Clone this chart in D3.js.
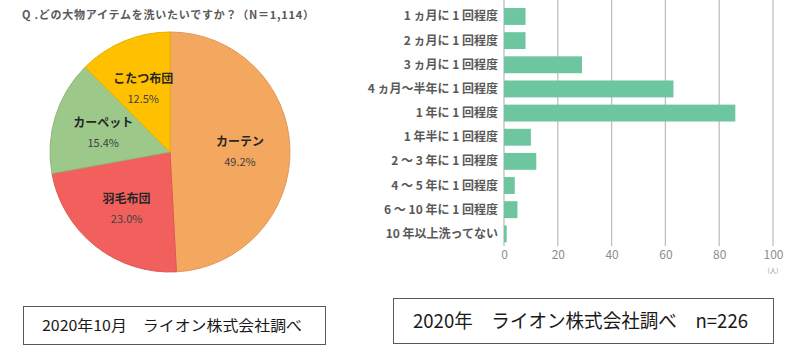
<!DOCTYPE html>
<html><head><meta charset="utf-8">
<script src="https://cdn.jsdelivr.net/npm/d3@7"></script>
<style>body{margin:0;background:#fff}svg{display:block}</style>
</head><body>
<svg id="c" width="800" height="355"></svg>
<script>
// Pie data
const pieTitle = "Q .どの大物アイテムを洗いたいですか？（N＝1,114）";
const pieCategories = ["カーテン", "羽毛布団", "カーペット", "こたつ布団"];
const pieValues = [49.2, 23.0, 15.4, 12.5];
const pieColors = ["#F4A75E", "#F2605D", "#9CC98A", "#FFC000"];

// Bar data
const barCategories = ["1 ヵ月に 1 回程度", "2 ヵ月に 1 回程度", "3 ヵ月に 1 回程度", "4 ヵ月〜半年に 1 回程度", "1 年に 1 回程度", "1 年半に 1 回程度", "2 〜 3 年に 1 回程度", "4 〜 5 年に 1 回程度", "6 〜 10 年に 1 回程度", "10 年以上洗ってない"];
const barValues = [8, 8, 29, 63, 86, 10, 12, 4, 5, 1];
const barTicks = [0, 20, 40, 60, 80, 100];

const leftNote = "2020年10月　ライオン株式会社調べ";
const rightNote = "2020年　ライオン株式会社調べ　n=226";

const svg = d3.select("#c");
const JP = "'Noto Sans CJK JP', 'Noto Sans', sans-serif";

// ---- Pie ----
svg.append("text").attr("x", 22).attr("y", 19)
  .attr("font-family", JP).attr("font-size", 11).attr("font-weight", "bold")
  .attr("fill", "#595959").attr("textLength", 292).attr("lengthAdjust", "spacing").text(pieTitle);

const cx = 170, cy = 152, R = 120;
const pie = d3.pie().sort(null).value(d => d)(pieValues);
const arc = d3.arc().innerRadius(0).outerRadius(R);
const labelArc = d3.arc().innerRadius(70).outerRadius(70);
const gp = svg.append("g").attr("transform", `translate(${cx},${cy})`);
gp.selectAll("path").data(pie).join("path")
  .attr("d", arc)
  .attr("fill", (d, i) => pieColors[i])
  .attr("stroke", (d, i) => d3.color(pieColors[i]).darker(0.25))
  .attr("stroke-width", 1);
const lg = gp.selectAll("g.lab").data(pie).join("g")
  .attr("transform", d => { const c = labelArc.centroid(d); return `translate(${c[0]},${c[1]})`; });
lg.append("text").attr("text-anchor", "middle").attr("y", -4)
  .attr("font-family", JP).attr("font-size", 12).attr("font-weight", "bold")
  .attr("fill", "#262626").text((d, i) => pieCategories[i]);
lg.append("text").attr("text-anchor", "middle").attr("y", 16)
  .attr("font-family", JP).attr("font-size", 11)
  .attr("fill", "#404040").text((d, i) => pieValues[i].toFixed(1) + "%");

// ---- Bar ----
const x = d3.scaleLinear().domain([0, 100]).range([504, 773]);
const y = d3.scaleBand().domain(barCategories).range([4.4, 245.9]).paddingInner(0.3).paddingOuter(0.15);
const gb = svg.append("g");
gb.selectAll("line.grid").data(barTicks).join("line")
  .attr("x1", d => x(d)).attr("x2", d => x(d))
  .attr("y1", 0).attr("y2", 246)
  .attr("stroke", "#bfbfbf").attr("stroke-width", 1.3);
gb.selectAll("rect").data(barValues).join("rect")
  .attr("x", x(0)).attr("y", (d, i) => y(barCategories[i]))
  .attr("width", d => x(d) - x(0)).attr("height", y.bandwidth())
  .attr("fill", "#6EC6A1");
gb.selectAll("text.cat").data(barCategories).join("text")
  .attr("x", 498).attr("y", d => y(d) + y.bandwidth() / 2 + 4)
  .attr("text-anchor", "end").attr("font-family", JP).attr("font-size", 12)
  .attr("font-weight", "bold").attr("fill", "#595959").text(d => d);
const xAxis = d3.axisBottom(x).tickValues(barTicks).tickSize(0).tickPadding(0);
const ax = gb.append("g").attr("transform", "translate(0,250)").call(xAxis);
ax.select(".domain").remove();
ax.selectAll("text").attr("font-family", JP).attr("font-size", 12).attr("fill", "#8c8c8c").attr("dy", "0.75em");
gb.append("text").attr("x", 773).attr("y", 273).attr("text-anchor", "middle")
  .attr("font-family", JP).attr("font-size", 6.5).attr("fill", "#8c8c8c").text("(人)");

// ---- Notes ----
svg.append("rect").attr("x", 23.5).attr("y", 306.5).attr("width", 302).attr("height", 38)
  .attr("fill", "none").attr("stroke", "#595959").attr("stroke-width", 1);
svg.append("text").attr("x", 42).attr("y", 331).attr("font-family", JP).attr("font-size", 15)
  .attr("fill", "#1a1a1a").attr("textLength", 260).attr("lengthAdjust", "spacingAndGlyphs").text(leftNote);
svg.append("rect").attr("x", 393.5).attr("y", 298.5).attr("width", 380).attr("height", 45)
  .attr("fill", "none").attr("stroke", "#595959").attr("stroke-width", 1);
svg.append("text").attr("x", 413).attr("y", 328).attr("font-family", JP).attr("font-size", 19)
  .attr("fill", "#1a1a1a").attr("textLength", 335).attr("lengthAdjust", "spacingAndGlyphs").text(rightNote);
</script>
</body></html>
